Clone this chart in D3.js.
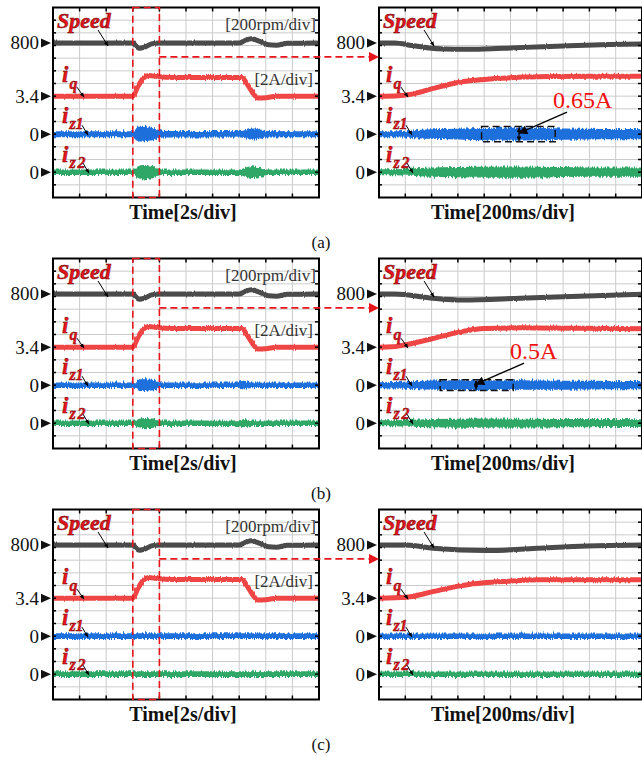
<!DOCTYPE html>
<html>
<head>
<meta charset="utf-8">
<script src="https://cdn.jsdelivr.net/npm/d3@7/dist/d3.min.js"></script>
<style>
  body { margin: 0; background: #fff; }
  svg text { font-family: "Liberation Serif", "Times New Roman", serif; }
</style>
</head>
<body>
<svg id="chart" width="642" height="757"></svg>
<script>
// ---------- values ----------
// overview window (left scopes), time in s, 2 s/div
var overviewSpeedT = [0, 6.0, 6.2, 6.5, 6.9, 7.4, 8.0, 14.0, 14.4, 14.9, 15.5, 16.2, 16.8, 17.6, 20];
var overviewSpeed  = [800, 800, 760, 715, 735, 785, 800, 800, 835, 865, 830, 770, 765, 795, 800];
var overviewIqT = [0, 6.0, 6.4, 6.8, 7.2, 7.8, 9, 14.2, 14.6, 15.0, 15.4, 16.0, 16.8, 20];
var overviewIq  = [3.4, 3.4, 5.0, 6.25, 6.65, 6.5, 6.35, 6.35, 5.3, 4.0, 3.1, 3.15, 3.4, 3.4];

// zero-sequence current envelopes (amplitude, A)
var overviewIz1T_a = [0, 6.1, 6.3, 6.9, 7.5, 7.9, 8.3, 14.2, 14.6, 15.0, 15.5, 16.0, 20];
var overviewIz1_a  = [0.2, 0.2, 0.55, 0.52, 0.45, 0.3, 0.22, 0.22, 0.32, 0.4, 0.32, 0.22, 0.2];
var overviewIz2T_a = [0, 6.1, 6.4, 6.8, 7.4, 7.9, 8.2, 14.0, 14.5, 15.0, 15.6, 16.1, 20];
var overviewIz2_a  = [0.18, 0.18, 0.42, 0.53, 0.45, 0.25, 0.18, 0.18, 0.33, 0.43, 0.33, 0.18, 0.18];
var overviewIz1T_b = [0, 6.2, 6.5, 7.2, 7.7, 8.0, 13.9, 14.3, 14.7, 15.1, 20];
var overviewIz1_b  = [0.18, 0.18, 0.42, 0.4, 0.35, 0.18, 0.18, 0.3, 0.2, 0.18, 0.18];
var overviewIz2T_b = [0, 6.2, 6.5, 7.0, 7.6, 7.9, 13.9, 14.4, 14.9, 20];
var overviewIz2_b  = [0.18, 0.18, 0.3, 0.36, 0.3, 0.18, 0.18, 0.28, 0.18, 0.18];
var overviewIzT_c = [0, 20];
var overviewIz_c  = [0.19, 0.19];

// zoomed window (right scopes), time in ms, 200 ms/div
var zoomSpeedT_a = [0, 120, 250, 380, 500, 650, 800, 1000, 1250, 1500, 1750, 2000];
var zoomSpeed_a  = [800, 800, 760, 721, 705, 700, 705, 721, 742, 760, 776, 784];
var zoomIqT_a = [0, 150, 250, 400, 600, 800, 1000, 1300, 1600, 2000];
var zoomIq_a  = [3.4, 3.48, 3.72, 4.55, 5.57, 6.04, 6.32, 6.51, 6.56, 6.56];
var zoomIz1T_a = [0, 200, 350, 600, 800, 1100, 1400, 1700, 2000];
var zoomIz1_a  = [0.2, 0.22, 0.33, 0.38, 0.45, 0.46, 0.4, 0.37, 0.36];
var zoomIz2T_a = [0, 200, 350, 600, 900, 1200, 1600, 2000];
var zoomIz2_a  = [0.2, 0.22, 0.3, 0.36, 0.4, 0.38, 0.33, 0.32];

var zoomSpeedT_b = [0, 120, 411, 639, 1072, 1582, 2000];
var zoomSpeed_b  = [800, 800, 732, 705, 732, 768, 795];
var zoomIqT_b = [0, 100, 213, 411, 616, 806, 1072, 1500, 2000];
var zoomIq_b  = [3.4, 3.45, 3.83, 4.77, 5.82, 6.35, 6.45, 6.4, 6.29];
var zoomIzT_b = [0, 200, 400, 800, 1200, 1600, 2000];
var zoomIz1_b = [0.2, 0.24, 0.32, 0.35, 0.33, 0.3, 0.28];
var zoomIz2_b = [0.2, 0.22, 0.28, 0.32, 0.3, 0.28, 0.27];

var zoomSpeedT_c = [0, 213, 411, 821, 1201, 1582, 2000];
var zoomSpeed_c  = [800, 800, 748, 711, 748, 784, 800];
var zoomIqT_c = [0, 213, 411, 616, 821, 1019, 1221, 2000];
var zoomIq_c  = [3.4, 3.56, 4.44, 5.34, 5.86, 6.13, 6.29, 6.29];
var zoomIzT_c = [0, 2000];
var zoomIz_c  = [0.18, 0.18];

var markerLabels = ["800", "3.4", "0", "0"];
var caseLabels = ["(a)", "(b)", "(c)"];
var rippleText = ["0.65A", "0.5A", null];
// ripple box: [t0, t1, amplitude, t of arrow] in ms / A
var rippleBox_a = [780, 1340, 0.6, 1065];
var rippleBox_b = [465, 1020, 0.42, 738];
var zoomWindow = [6, 8];

// ---------- layout ----------
var svg = d3.select("#chart");
var PLOT_TOP = 7.5, PLOT_BOTTOM = 197.5;
var CASE_OFFSET = [0, 251, 502];
var LEFT_X = [53, 319], RIGHT_X = [379, 642];
var COLORS = { speed: "#4b4b4b", iq: "#f04545", iz1: "#1d6fdc", iz2: "#2fa766" };
var RED = "#e8141b";

// channel: level (div from bottom) of the marker and units/div
var CHANNELS = {
  speed: { level: 12.2, ref: 800, perDiv: 200 },
  iq:    { level: 8,    ref: 3.4, perDiv: 2 },
  iz1:   { level: 5,    ref: 0,   perDiv: 1 },
  iz2:   { level: 2,    ref: 0,   perDiv: 1 }
};
var yDiv = d3.scaleLinear().domain([0, 15]).range([PLOT_BOTTOM, PLOT_TOP]);
function chY(ch, v) { var c = CHANNELS[ch]; return yDiv(c.level + (v - c.ref) / c.perDiv); }

var defs = svg.append("defs");
defs.append("marker").attr("id", "ah").attr("viewBox", "0 0 10 10")
  .attr("refX", 9).attr("refY", 5).attr("markerWidth", 5).attr("markerHeight", 5)
  .attr("orient", "auto").append("path").attr("d", "M0,1 L10,5 L0,9 Z").attr("fill", "#000");
defs.append("marker").attr("id", "ahBig").attr("viewBox", "0 0 10 10")
  .attr("refX", 9).attr("refY", 5).attr("markerWidth", 9).attr("markerHeight", 7)
  .attr("orient", "auto").append("path").attr("d", "M0,0 L10,5 L0,10 Z").attr("fill", "#000");
defs.append("marker").attr("id", "ahSmall").attr("viewBox", "0 0 10 10")
  .attr("refX", 9).attr("refY", 5).attr("markerWidth", 4).attr("markerHeight", 4)
  .attr("orient", "auto-start-reverse").append("path").attr("d", "M0,0 L10,5 L0,10 Z").attr("fill", "#000");
defs.append("marker").attr("id", "ahRed").attr("viewBox", "0 0 10 10")
  .attr("refX", 10).attr("refY", 5).attr("markerWidth", 14).attr("markerHeight", 10)
  .attr("markerUnits", "userSpaceOnUse")
  .attr("orient", "auto").append("path").attr("d", "M0,0 L10,5 L0,10 Z").attr("fill", RED);

// scope-trace texture: a jittered copy drawn over a clean core gives spiky edges
function addJitter(id, scale, freqX, seed) {
  var f = defs.append("filter").attr("id", id).attr("x", "-2%").attr("y", "-40%")
    .attr("width", "104%").attr("height", "180%");
  f.append("feTurbulence").attr("type", "fractalNoise").attr("baseFrequency", freqX + " 0.02")
    .attr("numOctaves", 1).attr("seed", seed).attr("result", "n");
  f.append("feDisplacementMap").attr("in", "SourceGraphic").attr("in2", "n").attr("scale", scale)
    .attr("xChannelSelector", "R").attr("yChannelSelector", "G");
}
addJitter("jitBand", 6, 0.9, 7);
addJitter("jitLine", 3, 0.9, 3);

function zipPts(ts, vs) { return ts.map(function(t, i) { return [t, vs[i]]; }); }

function drawScope(g, xr, domain, series, isOverview, caseIdx) {
  var x = d3.scaleLinear().domain(domain).range(xr);
  var clipId = "clip" + caseIdx + (isOverview ? "L" : "R");
  g.append("clipPath").attr("id", clipId).append("rect")
    .attr("x", xr[0]).attr("y", PLOT_TOP).attr("width", xr[1] - xr[0]).attr("height", PLOT_BOTTOM - PLOT_TOP);

  // grid
  var grid = g.append("g").attr("stroke", "#cbcbcb").attr("stroke-width", 1);
  d3.range(1, 10).forEach(function(i) {
    var gx = xr[0] + (xr[1] - xr[0]) * i / 10;
    grid.append("line").attr("x1", gx).attr("x2", gx).attr("y1", PLOT_TOP).attr("y2", PLOT_BOTTOM);
  });
  d3.range(1, 15).forEach(function(i) {
    grid.append("line").attr("x1", xr[0]).attr("x2", xr[1]).attr("y1", yDiv(i)).attr("y2", yDiv(i));
  });

  var traces = g.append("g").attr("clip-path", "url(#" + clipId + ")");
  // zero-sequence currents as envelope bands
  ["iz2", "iz1"].forEach(function(ch) {
    var pts = zipPts(series[ch][0], series[ch][1]);
    var area = function(pad) {
      return d3.area().curve(d3.curveMonotoneX)
        .x(function(d) { return x(d[0]); })
        .y0(function(d) { return chY(ch, -d[1]) + pad; })
        .y1(function(d) { return chY(ch, d[1]) - pad; });
    };
    traces.append("path").attr("d", area(0.5)(pts)).attr("fill", COLORS[ch])
      .attr("filter", "url(#jitBand)");
    traces.append("path").attr("d", area(-0.6)(pts)).attr("fill", COLORS[ch]);
  });
  ["iq", "speed"].forEach(function(ch) {
    var pts = zipPts(series[ch][0], series[ch][1]);
    var line = d3.line().curve(d3.curveMonotoneX)
      .x(function(d) { return x(d[0]); })
      .y(function(d) { return chY(ch, d[1]); });
    traces.append("path").attr("d", line(pts)).attr("fill", "none")
      .attr("stroke", COLORS[ch]).attr("stroke-width", 5).attr("filter", "url(#jitLine)");
    traces.append("path").attr("d", line(pts)).attr("fill", "none")
      .attr("stroke", COLORS[ch]).attr("stroke-width", 3.6);
  });

  // frame + edge ticks
  g.append("rect").attr("x", xr[0]).attr("y", PLOT_TOP).attr("width", xr[1] - xr[0])
    .attr("height", PLOT_BOTTOM - PLOT_TOP).attr("fill", "none").attr("stroke", "#000").attr("stroke-width", 2);
  var tk = g.append("g").attr("stroke", "#000").attr("stroke-width", 1.5);
  d3.range(1, 10).forEach(function(i) {
    var gx = xr[0] + (xr[1] - xr[0]) * i / 10;
    tk.append("line").attr("x1", gx).attr("x2", gx).attr("y1", PLOT_TOP).attr("y2", PLOT_TOP + 4);
    tk.append("line").attr("x1", gx).attr("x2", gx).attr("y1", PLOT_BOTTOM).attr("y2", PLOT_BOTTOM - 4);
  });
  d3.range(1, 15).forEach(function(i) {
    tk.append("line").attr("x1", xr[1]).attr("x2", xr[1] - 4).attr("y1", yDiv(i)).attr("y2", yDiv(i));
    tk.append("line").attr("x1", xr[0]).attr("x2", xr[0] + 3).attr("y1", yDiv(i)).attr("y2", yDiv(i));
  });

  // channel markers
  ["speed", "iq", "iz1", "iz2"].forEach(function(ch, i) {
    var yy = chY(ch, CHANNELS[ch].ref);
    g.append("path").attr("d", "M" + (xr[0] - 12) + "," + (yy - 4.5) + " L" + (xr[0] - 2) + "," + yy +
      " L" + (xr[0] - 12) + "," + (yy + 4.5) + " Z").attr("fill", "#111");
    g.append("text").attr("x", xr[0] - 14).attr("y", yy + 6.5).attr("text-anchor", "end")
      .attr("font-size", 19).attr("fill", "#111").text(markerLabels[i]);
  });

  // channel names with pointer arrows
  var lx = xr[0] + 4;
  var ySp = chY("speed", 800);
  g.append("text").attr("x", lx).attr("y", ySp - 15).attr("font-size", 22).attr("font-weight", "bold")
    .attr("font-style", "italic").attr("fill", RED).attr("stroke", "#6a0000").attr("stroke-width", 0.5)
    .text("Speed");
  g.append("line").attr("x1", lx + 41).attr("y1", ySp - 13).attr("x2", lx + 51).attr("y2", ySp + 3)
    .attr("stroke", "#000").attr("stroke-width", 1).attr("marker-end", "url(#ah)");

  var iLabels = [["iq", "q", 14, 7, 15, 22], ["iz1", "z1", 11, 5, 20, 26], ["iz2", "z2", 10, 4, 21, 27]];
  iLabels.forEach(function(L) {
    var yy = chY(L[0], CHANNELS[L[0]].ref);
    var ix = isOverview ? xr[0] + 9 : xr[0] + 7;
    var t = g.append("text").attr("x", ix).attr("y", yy - L[2]).attr("font-weight", "bold")
      .attr("font-style", "italic").attr("fill", RED).attr("stroke", "#6a0000").attr("stroke-width", 0.4);
    t.append("tspan").attr("font-size", 23).text("i");
    t.append("tspan").attr("font-size", 16).attr("dy", L[2] - L[3]).attr("dx", 1)
      .attr("letter-spacing", L[1] === "z2" ? 2 : 0).text(L[1]);
    g.append("line").attr("x1", ix + L[4]).attr("y1", yy - 9).attr("x2", ix + L[5]).attr("y2", yy + 1)
      .attr("stroke", "#000").attr("stroke-width", 1).attr("marker-end", "url(#ah)");
  });

  if (isOverview) {
    g.append("text").attr("x", xr[1] - 3).attr("y", ySp - 13).attr("text-anchor", "end")
      .attr("font-size", 17).attr("fill", "#333").text("[200rpm/div]");
    g.append("text").attr("x", xr[1] - 6).attr("y", chY("iq", 3.4) - 11).attr("text-anchor", "end")
      .attr("font-size", 17).attr("fill", "#333").text("[2A/div]");
  }

  g.append("text").attr("x", isOverview ? 183 : 503).attr("y", 219).attr("text-anchor", "middle")
    .attr("font-size", 20).attr("font-weight", "bold").attr("fill", "#111")
    .text(isOverview ? "Time[2s/div]" : "Time[200ms/div]");
  return x;
}

function drawRipple(g, x, box, label) {
  var yc = chY("iz1", 0);
  var ytop = chY("iz1", box[2]), ybot = chY("iz1", -box[2]);
  g.append("rect").attr("x", x(box[0])).attr("y", ytop).attr("width", x(box[1]) - x(box[0]))
    .attr("height", ybot - ytop).attr("fill", "none").attr("stroke", "#111").attr("stroke-width", 1.5)
    .attr("stroke-dasharray", "7,4");
  g.append("line").attr("x1", x(box[3])).attr("x2", x(box[3])).attr("y1", ytop + 1).attr("y2", ybot - 1)
    .attr("stroke", "#000").attr("stroke-width", 1.2)
    .attr("marker-start", "url(#ahSmall)").attr("marker-end", "url(#ahSmall)");
  var tx = x(box[3]) + 34;
  g.append("text").attr("x", tx).attr("y", yc - 26).attr("font-size", 24).attr("fill", "#f01010").text(label);
  g.append("line").attr("x1", tx + 14).attr("y1", yc - 22).attr("x2", x(box[3])).attr("y2", yc - 1)
    .attr("stroke", "#000").attr("stroke-width", 1.3).attr("marker-end", "url(#ahBig)");
}

var cases = [
  { left: { speed: [overviewSpeedT, overviewSpeed], iq: [overviewIqT, overviewIq],
            iz1: [overviewIz1T_a, overviewIz1_a], iz2: [overviewIz2T_a, overviewIz2_a] },
    right: { speed: [zoomSpeedT_a, zoomSpeed_a], iq: [zoomIqT_a, zoomIq_a],
             iz1: [zoomIz1T_a, zoomIz1_a], iz2: [zoomIz2T_a, zoomIz2_a] }, box: rippleBox_a },
  { left: { speed: [overviewSpeedT, overviewSpeed], iq: [overviewIqT, overviewIq],
            iz1: [overviewIz1T_b, overviewIz1_b], iz2: [overviewIz2T_b, overviewIz2_b] },
    right: { speed: [zoomSpeedT_b, zoomSpeed_b], iq: [zoomIqT_b, zoomIq_b],
             iz1: [zoomIzT_b, zoomIz1_b], iz2: [zoomIzT_b, zoomIz2_b] }, box: rippleBox_b },
  { left: { speed: [overviewSpeedT, overviewSpeed], iq: [overviewIqT, overviewIq],
            iz1: [overviewIzT_c, overviewIz_c], iz2: [overviewIzT_c, overviewIz_c] },
    right: { speed: [zoomSpeedT_c, zoomSpeed_c], iq: [zoomIqT_c, zoomIq_c],
             iz1: [zoomIzT_c, zoomIz_c], iz2: [zoomIzT_c, zoomIz_c] }, box: null }
];

cases.forEach(function(c, k) {
  var g = svg.append("g").attr("transform", "translate(0," + CASE_OFFSET[k] + ")");
  var xl = drawScope(g, LEFT_X, [0, 20], c.left, true, k);
  var xr = drawScope(g, RIGHT_X, [0, 2000], c.right, false, k);

  // zoom window on the overview and the link arrow
  var wx0 = xl(zoomWindow[0]), wx1 = xl(zoomWindow[1]);
  g.append("rect").attr("x", wx0).attr("y", PLOT_TOP).attr("width", wx1 - wx0)
    .attr("height", PLOT_BOTTOM - PLOT_TOP).attr("fill", "none").attr("stroke", RED)
    .attr("stroke-width", 1.6).attr("stroke-dasharray", "7,4");
  var ly = yDiv(11.1);
  g.append("line").attr("x1", wx1).attr("x2", RIGHT_X[0]).attr("y1", ly).attr("y2", ly)
    .attr("stroke", RED).attr("stroke-width", 1.6).attr("stroke-dasharray", "7,4")
    .attr("marker-end", "url(#ahRed)");

  if (c.box) drawRipple(g, xr, c.box, rippleText[k]);

  g.append("text").attr("x", 321).attr("y", 248).attr("text-anchor", "middle")
    .attr("font-size", 17).attr("fill", "#111").text(caseLabels[k]);
});
</script>
</body>
</html>
